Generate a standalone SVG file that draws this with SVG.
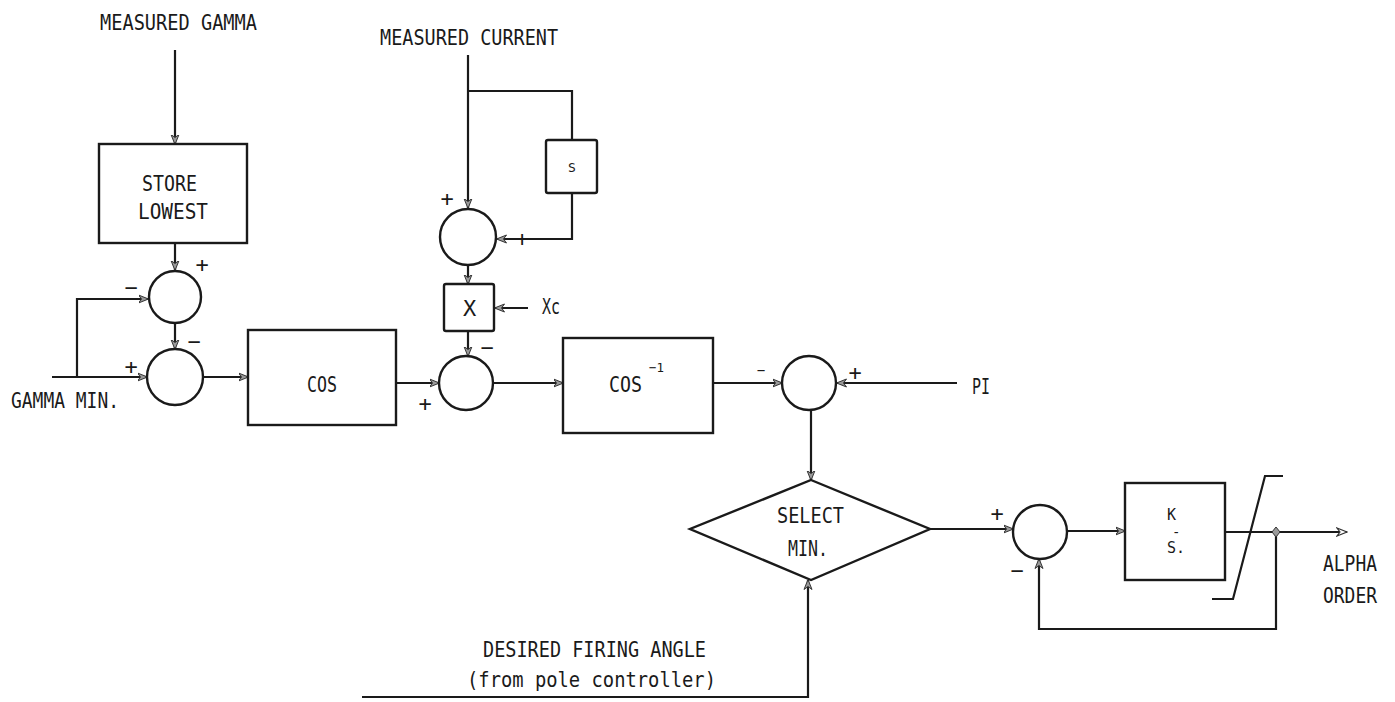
<svg xmlns="http://www.w3.org/2000/svg" width="1395" height="702" viewBox="0 0 1395 702">
<style>
.ln{fill:none;stroke:#1a1a1a;stroke-width:2.2;stroke-linejoin:miter}
.bx{fill:#fff;stroke:#1a1a1a;stroke-width:2.4}
.t{font-family:"DejaVu Sans Mono","Liberation Mono",monospace;font-size:22px;fill:#1a1a1a}
.s{font-family:"DejaVu Sans Mono","Liberation Mono",monospace;font-size:22px;fill:#1a1a1a;text-anchor:middle;dominant-baseline:central}
.sm{font-family:"DejaVu Sans Mono","Liberation Mono",monospace;font-size:13px;fill:#1a1a1a}
.a{marker-end:url(#ah)}
</style>
<defs>
<marker id="ah" viewBox="0 0 10 10" refX="9.5" refY="5" markerWidth="10" markerHeight="10" markerUnits="userSpaceOnUse" orient="auto">
<path d="M0,1 L10,5 L0,9 L3,5 z" fill="#9a9a9a" stroke="#333" stroke-width="1"/>
</marker>
<marker id="oh" viewBox="0 0 12 10" refX="11" refY="5" markerWidth="12" markerHeight="10" markerUnits="userSpaceOnUse" orient="auto">
<path d="M1,1 L11,5 L1,9 L4,5 z" fill="#fff" stroke="#333" stroke-width="1.2"/>
</marker>
</defs>
<rect width="1395" height="702" fill="#fff"/>

<g id="connectors">
<path class="ln a" d="M175,50 V144"/>
<path class="ln a" d="M175,243 V270"/>
<path class="ln a" d="M77,377 V299 H148"/>
<path class="ln a" d="M52,377 H147"/>
<path class="ln a" d="M175,323 V349"/>
<path class="ln a" d="M203,377 H248"/>
<path class="ln a" d="M468,55 V208"/>
<path class="ln" d="M468,91 H572 V140"/>
<path class="ln a" d="M572,193 V239 H497"/>
<path class="ln a" d="M468,265 V284"/>
<path class="ln a" d="M528,308 H495"/>
<path class="ln a" d="M468,331 V356"/>
<path class="ln a" d="M395,383 H439"/>
<path class="ln a" d="M494,383 H563"/>
<path class="ln a" d="M713,383 H782"/>
<path class="ln a" d="M957,383 H837"/>
<path class="ln a" d="M811,410 V480"/>
<path class="ln a" d="M930,529 H1013"/>
<path class="ln a" d="M1067,531 H1125"/>
<path class="ln" style="marker-end:url(#oh)" d="M1225,532 H1347"/>
<path class="ln a" d="M1276,532 V629 H1039 V559"/>
<path class="ln a" d="M362,697 H808 V580"/>
<path d="M1276,527 L1280,532 L1276,537 L1272,532 z" fill="#9a9a9a" stroke="#333" stroke-width="1"/>
</g>

<g id="label-measured-gamma"><text class="t" x="100" y="30" textLength="157" lengthAdjust="spacingAndGlyphs">MEASURED GAMMA</text></g>
<g id="label-measured-current"><text class="t" x="380" y="45" textLength="178" lengthAdjust="spacingAndGlyphs">MEASURED CURRENT</text></g>
<g id="label-gamma-min"><text class="t" x="11" y="408" textLength="108" lengthAdjust="spacingAndGlyphs">GAMMA MIN.</text></g>
<g id="label-xc"><text class="t" x="542" y="314" textLength="18" lengthAdjust="spacingAndGlyphs">Xc</text></g>
<g id="label-pi"><text class="t" x="972" y="394" textLength="18" lengthAdjust="spacingAndGlyphs">PI</text></g>
<g id="label-alpha-order">
<text class="t" x="1323" y="571" textLength="54" lengthAdjust="spacingAndGlyphs">ALPHA</text>
<text class="t" x="1323" y="603" textLength="54" lengthAdjust="spacingAndGlyphs">ORDER</text>
</g>
<g id="label-desired">
<text class="t" x="483" y="657" textLength="223" lengthAdjust="spacingAndGlyphs">DESIRED FIRING ANGLE</text>
<text class="t" x="467" y="687" textLength="249" lengthAdjust="spacingAndGlyphs">(from pole controller)</text>
</g>

<g id="store-lowest">
<rect class="bx" x="99" y="144" width="148" height="99"/>
<text class="t" x="142" y="191" textLength="55" lengthAdjust="spacingAndGlyphs">STORE</text>
<text class="t" x="138" y="219" textLength="70" lengthAdjust="spacingAndGlyphs">LOWEST</text>
</g>

<g id="sum1">
<circle class="bx" cx="175" cy="297" r="26"/>
<text class="s" x="131" y="287">−</text>
<text class="s" x="202" y="264">+</text>
</g>

<g id="sum2">
<circle class="bx" cx="175" cy="377" r="28"/>
<text class="s" x="194" y="341">−</text>
<text class="s" x="131" y="366">+</text>
</g>

<g id="cos">
<rect class="bx" x="248" y="330" width="148" height="95"/>
<text class="t" x="307" y="392" textLength="30" lengthAdjust="spacingAndGlyphs">COS</text>
</g>

<g id="deriv-s">
<rect class="bx" x="546" y="140" width="51" height="53" rx="2"/>
<text class="sm" x="568" y="172">S</text>
</g>

<g id="sum3">
<circle class="bx" cx="468" cy="237" r="28"/>
<text class="s" x="447" y="198">+</text>
<text class="s" x="522" y="238">+</text>
</g>

<g id="mult-x">
<rect class="bx" x="444" y="284" width="50" height="47" rx="2"/>
<text class="t" x="463" y="316">X</text>
</g>

<g id="sum4">
<circle class="bx" cx="466" cy="383" r="27"/>
<text class="s" x="487" y="347">−</text>
<text class="s" x="425" y="403">+</text>
</g>

<g id="arccos">
<rect class="bx" x="563" y="338" width="150" height="95"/>
<text class="t" x="609" y="392" textLength="33" lengthAdjust="spacingAndGlyphs">COS</text>
<text class="sm" x="649" y="372" textLength="15" lengthAdjust="spacingAndGlyphs">−1</text>
</g>

<g id="sum5">
<circle class="bx" cx="809" cy="383" r="27"/>
<text class="s" x="761" y="370" style="font-size:14px">−</text>
<text class="s" x="855" y="372">+</text>
</g>

<g id="select-min">
<path class="bx" d="M811,480 L930,529 L811,580 L690,529 Z"/>
<text class="t" x="777" y="523" textLength="67" lengthAdjust="spacingAndGlyphs">SELECT</text>
<text class="t" x="788" y="556" textLength="40" lengthAdjust="spacingAndGlyphs">MIN.</text>
</g>

<g id="sum6">
<circle class="bx" cx="1040" cy="532" r="27"/>
<text class="s" x="997" y="513">+</text>
<text class="s" x="1017" y="570">−</text>
</g>

<g id="integrator">
<rect class="bx" x="1125" y="483" width="100" height="97"/>
<text class="sm" x="1167" y="520" style="font-size:15px">K</text>
<text class="sm" x="1172" y="537" style="font-size:14px">-</text>
<text class="sm" x="1167" y="553" style="font-size:15px">S.</text>
</g>

<g id="limiter">
<path class="ln" d="M1283,476 H1265 L1233,599 H1212"/>
</g>
</svg>
